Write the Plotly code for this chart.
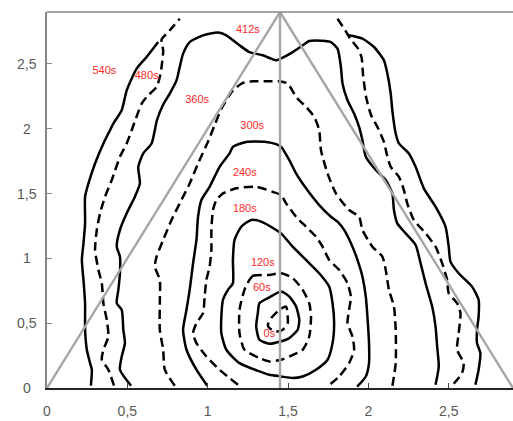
import plotly.graph_objects as go

# ---- data ----
tri_x = [0, 1.45, 2.9]
tri_y = [0, 2.9, 0]
mid_x = [1.45, 1.45]
mid_y = [0, 2.9]

c0_x = [1.374, 1.395, 1.446, 1.488, 1.498, 1.498, 1.467, 1.426, 1.384, 1.374]
c0_y = [0.487, 0.539, 0.603, 0.628, 0.551, 0.500, 0.449, 0.436, 0.462, 0.487]

c60_x = [1.312, 1.322, 1.384, 1.457, 1.508, 1.550, 1.570, 1.560, 1.508, 1.457, 1.384, 1.322, 1.302, 1.312]
c60_y = [0.577, 0.654, 0.699, 0.744, 0.705, 0.628, 0.526, 0.449, 0.385, 0.360, 0.341, 0.372, 0.474, 0.577]

c120_x = [1.260, 1.281, 1.384, 1.457, 1.529, 1.591, 1.632, 1.643, 1.632, 1.591, 1.508, 1.457, 1.384, 1.322,
          1.229, 1.198, 1.198, 1.229, 1.260]
c120_y = [0.834, 0.865, 0.872, 0.885, 0.847, 0.757, 0.654, 0.551, 0.397, 0.295, 0.243, 0.218, 0.205, 0.231,
          0.295, 0.423, 0.603, 0.757, 0.834]

c180_x = [1.157, 1.167, 1.209, 1.271, 1.333, 1.426, 1.457, 1.529, 1.612, 1.694, 1.756, 1.777, 1.787, 1.777,
          1.746, 1.674, 1.591, 1.529, 1.457, 1.384, 1.322, 1.198, 1.116, 1.085, 1.085, 1.095, 1.126, 1.157, 1.157]
c180_y = [0.988, 1.142, 1.244, 1.296, 1.283, 1.219, 1.193, 1.090, 0.988, 0.885, 0.782, 0.654, 0.500, 0.346,
          0.218, 0.141, 0.089, 0.077, 0.089, 0.102, 0.128, 0.192, 0.295, 0.423, 0.551, 0.680, 0.757, 0.808, 0.988]

c240_x = [1.188, 1.136, 1.074, 0.992, 0.930, 0.909, 0.930, 0.971, 0.981, 0.992, 1.012, 1.023, 1.023, 1.033,
          1.054, 1.095, 1.178, 1.302, 1.405, 1.457, 1.488, 1.550, 1.612, 1.674, 1.715, 1.756, 1.818, 1.870,
          1.891, 1.880, 1.870, 1.901, 1.911, 1.880, 1.818, 1.746]
c240_y = [0.025, 0.077, 0.141, 0.243, 0.346, 0.423, 0.500, 0.577, 0.705, 0.834, 0.936, 1.065, 1.219, 1.373,
          1.450, 1.501, 1.540, 1.552, 1.513, 1.488, 1.424, 1.321, 1.244, 1.167, 1.090, 0.988, 0.911, 0.808,
          0.705, 0.603, 0.500, 0.397, 0.295, 0.192, 0.089, 0.012]

c300_x = [0.997, 0.930, 0.868, 0.847, 0.868, 0.888, 0.909, 0.930, 0.940, 0.961, 1.012, 1.074, 1.136, 1.157,
          1.240, 1.364, 1.426, 1.457, 1.508, 1.550, 1.612, 1.694, 1.767, 1.808, 1.849, 1.901, 1.932, 1.963,
          1.984, 1.994, 2.004, 2.004, 1.984, 1.930]
c300_y = [0.018, 0.141, 0.295, 0.449, 0.603, 0.757, 0.962, 1.142, 1.321, 1.450, 1.552, 1.706, 1.809, 1.860,
          1.898, 1.898, 1.881, 1.860, 1.758, 1.655, 1.540, 1.411, 1.321, 1.283, 1.219, 1.090, 0.988, 0.859,
          0.705, 0.551, 0.346, 0.192, 0.089, 0.010]

c360_x = [0.795, 0.733, 0.723, 0.702, 0.702, 0.702, 0.671, 0.682, 0.723, 0.775, 0.826, 0.888, 0.940, 1.006,
          1.043, 1.087, 1.157, 1.219, 1.281, 1.364, 1.446, 1.498, 1.550, 1.612, 1.663, 1.694, 1.705, 1.746,
          1.798, 1.880, 1.942, 1.963, 2.025, 2.087, 2.108, 2.128, 2.159, 2.170, 2.170, 2.149]
c360_y = [0.018, 0.141, 0.295, 0.449, 0.654, 0.834, 0.936, 1.013, 1.142, 1.296, 1.424, 1.578, 1.732, 1.911,
          2.027, 2.158, 2.296, 2.353, 2.366, 2.366, 2.366, 2.348, 2.245, 2.168, 2.091, 1.988, 1.834, 1.655,
          1.501, 1.373, 1.321, 1.219, 1.090, 1.013, 0.911, 0.757, 0.628, 0.449, 0.192, 0.012]

c412_x = [0.523, 0.454, 0.465, 0.485, 0.475, 0.465, 0.434, 0.444, 0.454, 0.454, 0.434, 0.454, 0.496, 0.547,
          0.578, 0.568, 0.599, 0.651, 0.671, 0.684, 0.721, 0.764, 0.806, 0.826, 0.847, 0.888, 0.971, 1.064,
          1.116, 1.198, 1.260, 1.343, 1.395, 1.426, 1.467, 1.529, 1.591, 1.632, 1.674, 1.767, 1.808, 1.829,
          1.839, 1.870, 1.911, 1.942, 1.963, 1.984, 2.046, 2.108, 2.149, 2.159, 2.180, 2.232, 2.294, 2.325,
          2.356, 2.397, 2.418, 2.428, 2.438, 2.418]
c412_y = [0.018, 0.141, 0.243, 0.346, 0.449, 0.603, 0.654, 0.757, 0.885, 1.013, 1.090, 1.219, 1.347, 1.475,
          1.578, 1.706, 1.809, 1.886, 1.988, 2.065, 2.181, 2.271, 2.373, 2.476, 2.579, 2.668, 2.720, 2.741,
          2.720, 2.643, 2.591, 2.566, 2.540, 2.527, 2.548, 2.591, 2.643, 2.676, 2.681, 2.668, 2.617, 2.476,
          2.348, 2.219, 2.117, 2.014, 1.911, 1.783, 1.681, 1.604, 1.501, 1.373, 1.270, 1.193, 1.103, 0.962,
          0.808, 0.628, 0.474, 0.320, 0.166, 0.025]

c480l_x = [0.417, 0.382, 0.341, 0.351, 0.382, 0.372, 0.351, 0.341, 0.320, 0.299, 0.310, 0.330, 0.361, 0.403,
           0.454, 0.496, 0.527, 0.554, 0.589, 0.620, 0.682, 0.702, 0.713, 0.723, 0.713, 0.764, 0.826]
c480l_y = [0.018, 0.141, 0.218, 0.295, 0.397, 0.526, 0.654, 0.808, 0.911, 1.065, 1.219, 1.347, 1.475, 1.604,
           1.783, 1.886, 1.988, 2.081, 2.194, 2.245, 2.322, 2.399, 2.476, 2.604, 2.687, 2.758, 2.848]

c480r_x = [1.808, 1.856, 1.887, 1.936, 1.958, 1.967, 1.986, 2.017, 2.060, 2.097, 2.116, 2.139, 2.190, 2.221,
           2.242, 2.283, 2.356, 2.418, 2.459, 2.490, 2.500, 2.552, 2.573, 2.562, 2.552, 2.593, 2.583, 2.531]
c480r_y = [2.848, 2.758, 2.694, 2.617, 2.547, 2.412, 2.243, 2.104, 2.004, 1.896, 1.796, 1.706, 1.629, 1.527,
           1.424, 1.296, 1.193, 1.090, 0.962, 0.834, 0.731, 0.654, 0.577, 0.423, 0.295, 0.192, 0.115, 0.033]

c540l_x = [0.273, 0.279, 0.268, 0.248, 0.237, 0.237, 0.227, 0.217, 0.227, 0.237, 0.237, 0.258, 0.299, 0.351,
           0.392, 0.413, 0.465, 0.496, 0.558, 0.620, 0.692]
c540l_y = [0.018, 0.141, 0.192, 0.295, 0.449, 0.654, 0.834, 0.988, 1.116, 1.270, 1.475, 1.578, 1.732, 1.886,
           1.988, 2.040, 2.142, 2.296, 2.463, 2.553, 2.668]

c540r_x = [1.880, 1.963, 2.035, 2.097, 2.118, 2.139, 2.149, 2.170, 2.190, 2.252, 2.294, 2.345, 2.418, 2.480,
           2.500, 2.511, 2.562, 2.645, 2.686, 2.686, 2.676, 2.676, 2.697, 2.686, 2.666]
c540r_y = [2.720, 2.694, 2.630, 2.527, 2.425, 2.271, 2.142, 1.963, 1.886, 1.809, 1.706, 1.540, 1.398, 1.244,
           1.090, 0.975, 0.885, 0.782, 0.680, 0.551, 0.449, 0.346, 0.269, 0.141, 0.025]

label_text = ["0s", "60s", "120s", "180s", "240s", "300s", "360s", "412s", "480s", "540s"]
label_x = [1.384, 1.337, 1.343, 1.231, 1.231, 1.277, 0.934, 1.250, 0.620, 0.357]
label_y = [0.418, 0.770, 0.962, 1.378, 1.655, 2.022, 2.219, 2.758, 2.404, 2.443]

x_tickvals = [0, 0.5, 1, 1.5, 2, 2.5]
x_ticktext = ["0", "0,5", "1", "1,5", "2", "2,5"]
y_tickvals = [0, 0.5, 1, 1.5, 2, 2.5]
y_ticktext = ["0", "0,5", "1", "1,5", "2", "2,5"]

# ---- figure ----
fig = go.Figure()

contours = [
    (c0_x, c0_y, True), (c60_x, c60_y, False), (c120_x, c120_y, True),
    (c180_x, c180_y, False), (c240_x, c240_y, True), (c300_x, c300_y, False),
    (c360_x, c360_y, True), (c412_x, c412_y, False),
    (c480l_x, c480l_y, True), (c480r_x, c480r_y, True),
    (c540l_x, c540l_y, False), (c540r_x, c540r_y, False),
]
for xs, ys, dashed in contours:
    fig.add_trace(go.Scatter(
        x=xs, y=ys, mode="lines",
        line=dict(color="black", width=2.5, dash="9px,5px" if dashed else "solid", shape="spline", smoothing=0.6),
        hoverinfo="skip", showlegend=False))

GRAY = "#A6A6A6"
fig.add_trace(go.Scatter(x=tri_x, y=tri_y, mode="lines", line=dict(color=GRAY, width=2.4),
                         hoverinfo="skip", showlegend=False))
fig.add_trace(go.Scatter(x=mid_x, y=mid_y, mode="lines", line=dict(color=GRAY, width=2.4),
                         hoverinfo="skip", showlegend=False))

fig.add_trace(go.Scatter(x=label_x, y=label_y, mode="text", text=label_text,
                         textfont=dict(color="#FF2A2A", size=11, family="Liberation Sans"),
                         hoverinfo="skip", showlegend=False))

TICK_FONT = dict(family="Liberation Sans", size=14, color="#595959")

# y tick labels centred in the left margin (as in the reference)
annotations = [
    dict(x=0, xref="paper", y=v, yref="y", text=t, showarrow=False,
         xanchor="center", yanchor="middle", xshift=-20, font=TICK_FONT)
    for v, t in zip(y_tickvals, y_ticktext)
]

fig.update_layout(
    width=513, height=421,
    margin=dict(l=47, r=0, t=12, b=33),
    paper_bgcolor="white", plot_bgcolor="white",
    separators=", ",
    font=TICK_FONT,
    xaxis=dict(range=[0, 2.9], tickvals=x_tickvals, ticktext=x_ticktext,
               showgrid=False, zeroline=False, showline=True, linecolor="#262626", linewidth=1.5,
               ticks="inside", ticklen=5, tickcolor="#404040", tickfont=TICK_FONT,
               ticklabelstandoff=9),
    yaxis=dict(range=[0, 2.9], tickvals=y_tickvals, showticklabels=False,
               showgrid=False, zeroline=False, showline=True, linecolor="#868686", linewidth=1.5,
               ticks="inside", ticklen=5, tickcolor="#868686"),
    annotations=annotations,
    shapes=[dict(type="line", xref="paper", yref="paper", x0=0, x1=1, y0=1, y1=1,
                 line=dict(color="#868686", width=1.5))],
)

fig.write_html("out.html")
